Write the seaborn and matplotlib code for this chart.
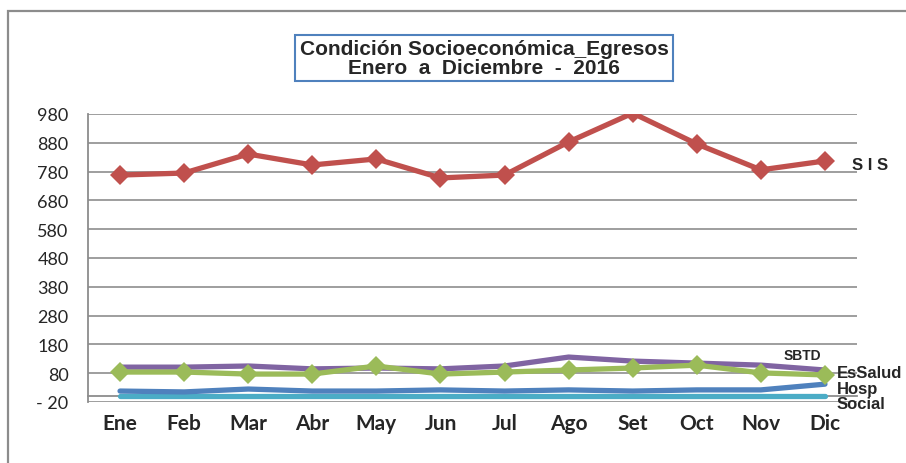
import numpy as np
import pandas as pd
import matplotlib
matplotlib.use("Agg")
import matplotlib.pyplot as plt
import seaborn as sns
from matplotlib.patches import Rectangle
from matplotlib.ticker import FixedLocator, FuncFormatter

# data
months = ["Ene", "Feb", "Mar", "Abr", "May", "Jun",
          "Jul", "Ago", "Set", "Oct", "Nov", "Dic"]
sis = [768, 775, 841, 803, 824, 758, 768, 883, 983, 876, 786, 817]
sbtd = [101, 101, 105, 95, 98, 95, 105, 136, 122, 115, 108, 91]
essalud = [84, 84, 77, 77, 105, 77, 84, 91, 98, 108, 81, 74]
hosp = [18, 15, 25, 18, 18, 22, 18, 22, 18, 22, 22, 42]
social = [2, 2, 2, 2, 2, 2, 2, 2, 2, 2, 2, 2]
y_ticks = list(range(-20, 981, 100))

series = {"Social": social, "Hosp": hosp, "SBTD": sbtd,
          "EsSalud": essalud, "SIS": sis}
colors = {"SIS": "#C0504D", "SBTD": "#8064A2", "EsSalud": "#9BBB59",
          "Hosp": "#4F81BD", "Social": "#4BACC6"}
markers = {"SIS": "D", "EsSalud": "D"}

df = pd.DataFrame([(name, i, v) for name, vals in series.items()
                   for i, v in enumerate(vals)],
                  columns=["serie", "mes", "valor"])

sns.set_style("white")
plt.rcParams["font.family"] = ["Liberation Sans", "DejaVu Sans"]

fig = plt.figure(figsize=(9.06, 4.64), dpi=100)
ax = fig.add_axes([88 / 906, 61 / 464, 769 / 906, 288 / 464])

for name in series:
    sub = df[df["serie"] == name]
    m = markers.get(name)
    sns.lineplot(data=sub, x="mes", y="valor", ax=ax, color=colors[name],
                 lw=3.8, marker=m if m else None, markersize=10.5,
                 markeredgewidth=0, legend=False, zorder=3)

ax.set_xlim(-0.5, 11.5)
ax.set_ylim(-20, 980)
ax.set_xlabel("")
ax.set_ylabel("")

# gridlines
ax.yaxis.set_major_locator(FixedLocator(y_ticks))
ax.yaxis.set_major_formatter(FuncFormatter(
    lambda v, p: "- 20" if v < 0 else f"{int(v)}"))
ax.grid(axis="y", color="#969696", lw=1.3, zorder=1)
ax.grid(axis="x", visible=False)

# category axis crosses at 0
ax.spines["bottom"].set_position(("data", 0))
ax.spines["bottom"].set_color("#8c8c8c")
ax.spines["bottom"].set_linewidth(1.3)
ax.spines["left"].set_color("#8c8c8c")
ax.spines["left"].set_linewidth(1.3)
ax.spines["top"].set_visible(False)
ax.spines["right"].set_visible(False)

ax.xaxis.set_major_locator(FixedLocator(np.arange(-0.5, 12, 1)))
ax.xaxis.set_minor_locator(FixedLocator(np.arange(12)))
ax.set_xticklabels([], minor=False)
ax.set_xticklabels(months, minor=True, fontfamily="Lato",
                   fontweight="bold", fontsize=15)
ax.tick_params(axis="x", which="major", direction="out", length=6,
               color="#8c8c8c", width=1.3)
ax.tick_params(axis="x", which="minor", length=0, pad=12)
ax.tick_params(axis="y", direction="out", length=11, color="#8c8c8c",
               width=1.3, labelsize=13, pad=3)
for lab in ax.get_yticklabels():
    lab.set_fontfamily("Lato")

# series labels at the right end
lbl = dict(fontsize=12, fontweight="bold", va="center", ha="left",
           clip_on=False)
ax.text(11.42, sis[-1] - 12, "S I S", **lbl)
ax.text(10.35, 143, "SBTD", fontsize=10, fontweight="bold", va="center",
        ha="left")
ax.text(11.18, 82, "EsSalud", **lbl)
ax.text(11.18, 27, "Hosp", **lbl)
ax.text(11.18, -25, "Social", **lbl)

# title box
fig.text(484 / 906, 1 - 59 / 464,
         "Condición Socioeconómica_Egresos\nEnero  a  Diciembre  -  2016",
         ha="center", va="center", fontsize=15, fontweight="bold",
         linespacing=1.0,
         bbox=dict(boxstyle="square,pad=0.2", fc="white", ec="#4F81BD",
                   lw=1.5))

# outer chart border
fig.patches.append(Rectangle((8 / 906, -0.1), 1.2, 1 - 12 / 464 + 0.1,
                             transform=fig.transFigure, fill=False,
                             ec="#8c8c8c", lw=1.6))

fig.savefig("out.png", dpi=100)
